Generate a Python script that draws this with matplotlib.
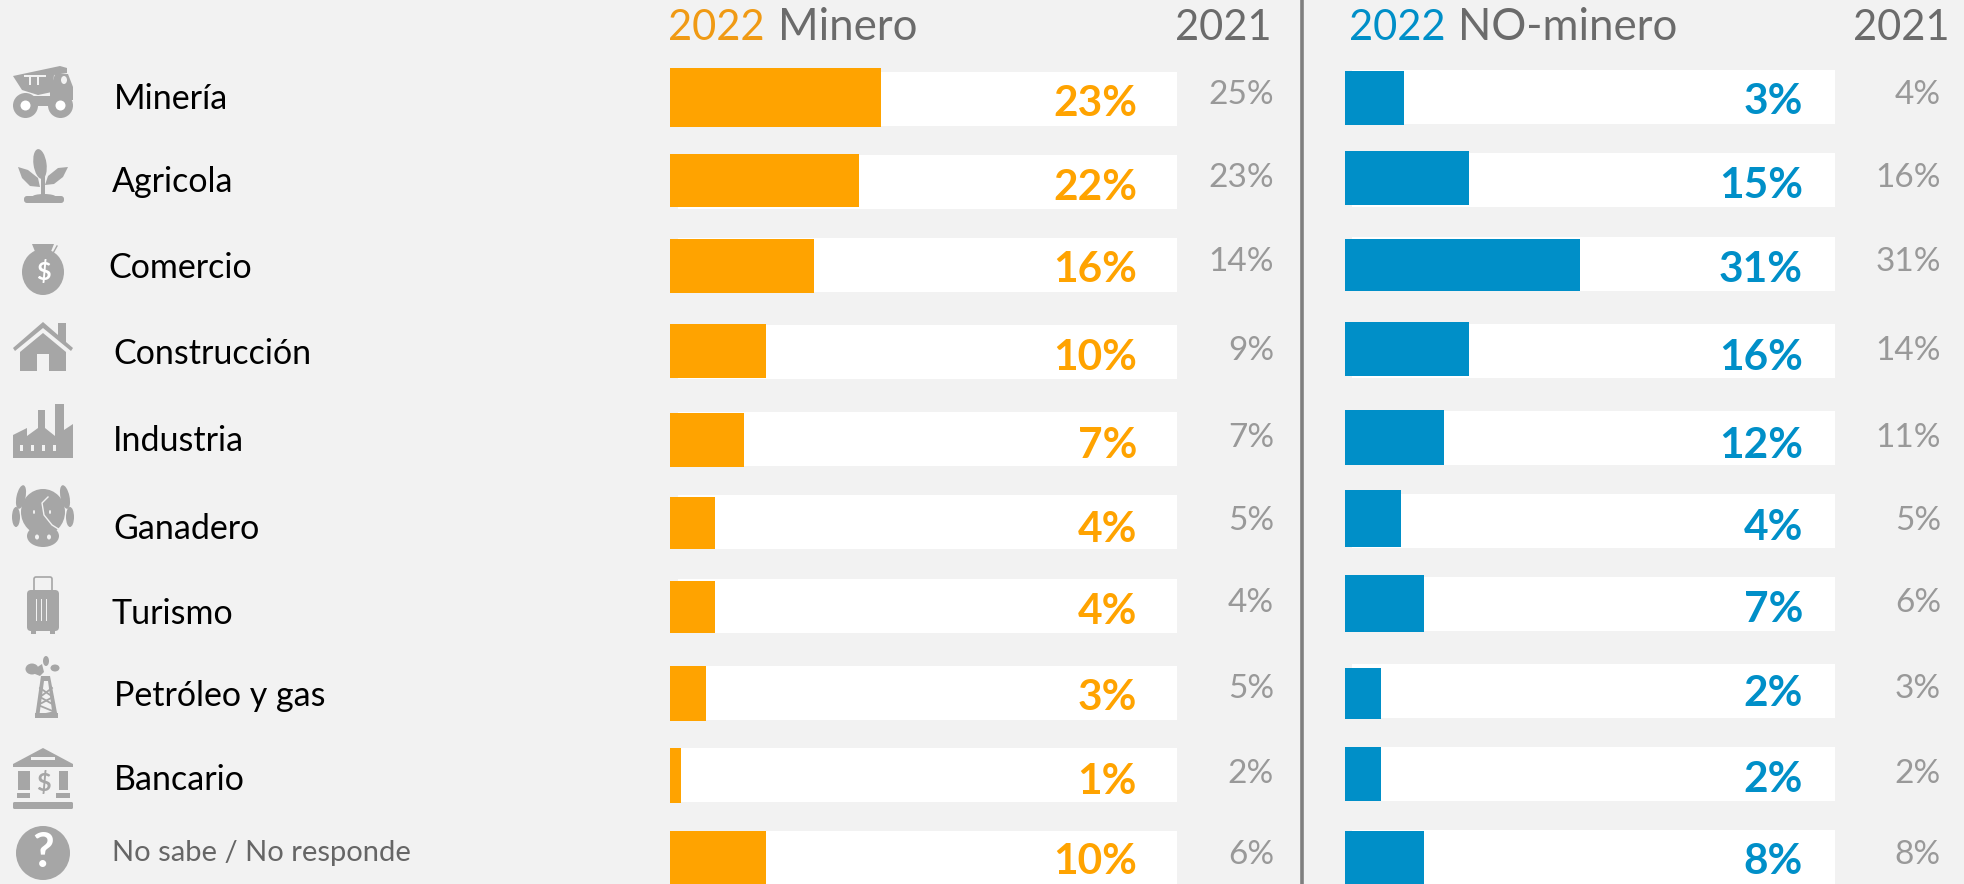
import matplotlib
matplotlib.use("Agg")
import matplotlib.pyplot as plt
from matplotlib.patches import Polygon, Circle, Ellipse, Rectangle, FancyBboxPatch

# ---------- data ----------
categories = ["Minería", "Agricola", "Comercio", "Construcción", "Industria",
              "Ganadero", "Turismo", "Petróleo y gas", "Bancario", "No sabe / No responde"]
minero_2022_labels = [23, 22, 16, 10, 7, 4, 4, 3, 1, 10]
minero_2021_labels = [25, 23, 14, 9, 7, 5, 4, 5, 2, 6]
no_minero_2022_labels = [3, 15, 31, 16, 12, 4, 7, 2, 2, 8]
no_minero_2021_labels = [4, 16, 31, 14, 11, 5, 6, 3, 2, 8]
# bar lengths as drawn in the picture (they do not strictly follow the labels)
minero_bar_len = [23.1, 20.7, 15.8, 10.5, 8.1, 4.9, 4.9, 3.9, 1.2, 10.5]
no_minero_bar_len = [7.8, 16.4, 31.1, 16.4, 13.1, 7.4, 10.5, 4.8, 4.8, 10.5]

# ---------- layout (pixels) ----------
W, H = 1964, 884
BG = "#F2F2F2"; ORANGE = "#FFA300"; BLUE = "#008FC8"; GREY21 = "#999999"; HEAD = "#6B6B6B"; ICON = "#A6A6A6"
FONT = "Lato"
L_X0, L_X1, L_SCALE = 670, 1177, 9.13
R_X0, R_X1, R_SCALE = 1345, 1835, 7.55
L_TRACK_X = 678; R_TRACK_X = 1352
l_bar_y = [(68,127),(154,207),(239,293),(324,378),(413,467),(497,549),(581,633),(666,721),(748,803),(831,884)]
l_trk_y = [(72,126),(155,209),(238,292),(325,379),(412,466),(495,549),(579,633),(666,720),(748,802),(831,884)]
r_bar_y = [(71,125),(151,205),(239,291),(322,376),(410,465),(490,547),(575,632),(668,719),(747,801),(831,884)]
r_trk_y = [(70,124),(153,207),(237,291),(324,378),(411,465),(494,548),(577,631),(664,718),(747,801),(830,884)]
l_val_y = [100,184,267,355,442,526,608,694,778,859]
r_val_y = [99,182,266,355,442,524,607,691,777,858]
y21 = [92,175,259,348,435,518,600,686,771,852]
cat_x = [114,112,108,113,113,113,112,114,114,112]
cat_base = [109,192,278,364,451,539,624,706,790,861]

fig = plt.figure(figsize=(W/100, H/100), dpi=100, facecolor=BG)

def panel(x0, x1, scale):
    a = fig.add_axes([x0/W, 0, (x1-x0)/W, 1]); a.set_xlim(0, (x1-x0)/scale); a.set_ylim(H, 0)
    a.axis("off"); a.patch.set_alpha(0)
    return a

al = panel(L_X0, L_X1, L_SCALE)
ar = panel(R_X0, R_X1, R_SCALE)
for a, x0, sc, trk_x, trk, bars, lens, col in [
        (al, L_X0, L_SCALE, L_TRACK_X, l_trk_y, l_bar_y, minero_bar_len, ORANGE),
        (ar, R_X0, R_SCALE, R_TRACK_X, r_trk_y, r_bar_y, no_minero_bar_len, BLUE)]:
    for i, v in enumerate(lens):
        t0, t1 = trk[i]; b0, b1 = bars[i]
        tl = (trk_x - x0)/sc
        a.barh((t0+t1)/2, a.get_xlim()[1]-tl, left=tl, height=t1-t0, color="white", linewidth=0)
        a.barh((b0+b1)/2, v, height=b1-b0, color=col, linewidth=0)

ax = fig.add_axes([0, 0, 1, 1]); ax.set_xlim(0, W); ax.set_ylim(H, 0); ax.axis("off"); ax.set_zorder(5)

# value labels
for i in range(10):
    ax.text(1137, l_val_y[i], f"{minero_2022_labels[i]}%", color=ORANGE, family=FONT, weight="bold",
            fontsize=30.5, ha="right", va="center_baseline", zorder=5)
    ax.text(1803, r_val_y[i], f"{no_minero_2022_labels[i]}%", color=BLUE, family=FONT, weight="bold",
            fontsize=30.5, ha="right", va="center_baseline", zorder=5)
    ax.text(1274, y21[i], f"{minero_2021_labels[i]}%", color=GREY21, family=FONT, fontsize=24,
            ha="right", va="center_baseline")
    ax.text(1941, y21[i], f"{no_minero_2021_labels[i]}%", color=GREY21, family=FONT, fontsize=24,
            ha="right", va="center_baseline")
    last = i == 9
    ax.text(cat_x[i], cat_base[i], categories[i], family=FONT, va="baseline", ha="left",
            fontsize=21 if last else 24.5, color="#666666" if last else "black")

# headers
for x, s, c, ha, fs in [(668, "2022", "#F09A14", "left", 30), (778, "Minero", HEAD, "left", 31.5),
                        (1272, "2021", HEAD, "right", 30), (1349, "2022", "#008FC8", "left", 30),
                        (1458, "NO-minero", HEAD, "left", 31.5), (1950, "2021", HEAD, "right", 30)]:
    ax.text(x, 40, s, color=c, family=FONT, fontsize=fs, ha=ha, va="baseline")

# divider
ax.plot([1302, 1302], [0, H], color="#7F7F7F", lw=2.6, solid_capstyle="butt")

# ---------- icons ----------
def poly(pts, c=ICON): ax.add_patch(Polygon(pts, closed=True, fc=c, ec="none"))
def ell(cx, cy, w, h, c=ICON, ang=0): ax.add_patch(Ellipse((cx, cy), w, h, angle=ang, fc=c, ec="none"))
def rect(x0, y0, x1, y1, c=ICON): ax.add_patch(Rectangle((x0, y0), x1-x0, y1-y0, fc=c, ec="none"))
def rrect(x0, y0, x1, y1, r=3, c=ICON):
    ax.add_patch(FancyBboxPatch((x0+r, y0+r), x1-x0-2*r, y1-y0-2*r, boxstyle=f"round,pad={r}", fc=c, ec="none"))

# truck
poly([(13,76),(60,66),(67,68),(67,73),(54,75),(52,92),(38,95),(22,90)])
rect(24,75,46,77,BG); rect(29,76,31,85,BG); rect(37,76,39,85,BG)
poly([(55,74),(68,74),(73,87),(73,100),(50,100),(50,90)])
ell(64,80,6,8,BG)
rect(30,96,55,106)
for cx in (25.5, 60.5):
    ell(cx,105.5,25,25); ell(cx,105.5,10,10,"white")

# plant
ell(40,164,13,30,ang=-8)
poly([(18,167),(28,170),(38,178),(40,187),(30,186),(22,178)])
poly([(68,167),(58,168),(48,176),(45,185),(54,184),(63,177)])
rect(41,176,45,198)
rrect(24,196,64,203,r=3); ell(44,197,24,6)

# money bag
ell(43,272,42,46)
poly([(32,244),(54,244),(50,254),(36,254)])
ax.plot([52,57],[255,246],color=ICON,lw=1)
ax.text(43,272,"$",color="white",family=FONT,weight="bold",fontsize=18,ha="center",va="center")

# house
poly([(43,322),(58,335),(58,323),(66,323),(66,342),(73,348),(71,351),(43,328),(15,351),(13,348)])
poly([(43,333),(66,352),(66,371),(49,371),(49,354),(37,354),(37,371),(20,371),(20,352)])

# factory
poly([(13,435),(27,428),(27,436),(38,428),(38,410),(45,410),(45,428),(55,436),(55,404),(64,404),(64,430),(73,424),(73,458),(13,458)])
for x in (20,31,42,53):
    rect(x,445,x+3,451,BG)

# cow
ell(43,512,44,46)
ell(21,497,9,24,ang=12); ell(65,497,9,24,ang=-12)
ell(16,517,8,20); ell(70,517,8,20)
ell(43,536,32,22)
ell(37,537,4,5,BG); ell(49,537,4,5,BG)
ell(34,512,2,4,BG); ell(50,512,2,4,BG)
ax.plot([48,42,44,52,60],[497,503,515,525,530],color=BG,lw=1)

# suitcase
rrect(27,590,59,631,r=4)
ax.add_patch(FancyBboxPatch((36,579),14,14,boxstyle="round,pad=2",fc="none",ec=ICON,lw=1.2))
for x in (36,41,46):
    rect(x,599,x+1.3,621,BG)
rect(31,631,36,634); rect(50,631,55,634)

# oil rig
poly([(35,718),(41,676),(50,676),(58,718),(53,718),(48,681),(44,681),(39,718)])
ax.plot([40,53,38,55,36],[688,697,705,712,716],color=ICON,lw=1.3)
ax.plot([52,40,54],[688,697,705],color=ICON,lw=1.3)
rect(35,713,58,718)
ell(32,669,13,11); poly([(30,672),(42,664),(44,672),(40,676)])
ell(46,661,6,10); ell(55,668,9,7)

# bank
poly([(43,748),(73,764),(73,767),(13,767),(13,764)])
rect(31,757,55,760,BG)
rect(18,771,30,790); rect(59,771,68,790)
ax.text(43,783,"$",color=ICON,family=FONT,weight="bold",fontsize=18,ha="center",va="center")
rect(17,793,30,798); rect(56,793,70,798)
rrect(13,802,73,809,r=1.5)

# question mark
ell(43,853,54,54)
ax.text(43,853,"?",color="white",family=FONT,weight="bold",fontsize=34,ha="center",va="center")

fig.savefig("out.png", dpi=100, facecolor=BG)
